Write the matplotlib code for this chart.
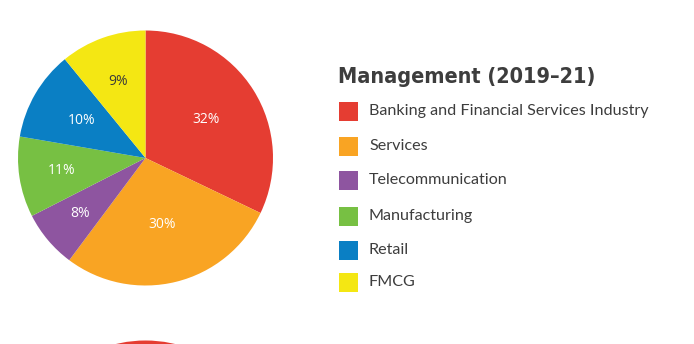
import numpy as np
import matplotlib.pyplot as plt
from matplotlib.patches import Circle, Rectangle

sectors = ['Banking and Financial Services Industry', 'Services', 'Telecommunication',
           'Manufacturing', 'Retail', 'FMCG']
shares = [32.1, 28.1, 7.3, 10.2, 11.4, 10.9]
pct_labels = ['32%', '30%', '8%', '11%', '10%', '9%']
colors = ['#e53d32', '#f9a423', '#8e55a0', '#77c043', '#0a7fc4', '#f4e713']
title = 'Management (2019\u201321)'

W, H = 694, 344
fig = plt.figure(figsize=(W / 100, H / 100), dpi=100)

# pie: centre (145,158) px, radius ~127.5 px
cx, cy, r = 145.5, 158, 127.5
ax = fig.add_axes([(cx - r) / W, (H - cy - r) / H, 2 * r / W, 2 * r / H])
wedges, _ = ax.pie(shares, colors=colors, startangle=90, counterclock=False, radius=1,
                   wedgeprops=dict(linewidth=0))
label_dist = [0.565, 0.54, 0.675, 0.665, 0.58, 0.635]
for w, lab, d in zip(wedges, pct_labels, label_dist):
    ang = np.deg2rad((w.theta1 + w.theta2) / 2)
    col = '#3a3a3a' if lab == '9%' else 'white'
    ax.text(d * np.cos(ang), d * np.sin(ang), lab, ha='center', va='center',
            color=col, fontsize=10, family='Open Sans')
ax.set_xlim(-1, 1)
ax.set_ylim(-1, 1)
ax.set_aspect('equal')
ax.axis('off')

# top of the next chart peeking in at the bottom
ax.add_patch(Circle((0, -(468 - cy) / r), 1, color=colors[0], clip_on=False, lw=0))

# legend drawn by hand
fig.text(338 / W, 1 - 77 / H, title, fontsize=15.5, fontweight='bold', color='#3d3d3d',
         family='DejaVu Sans', fontstretch='condensed', va='center', ha='left')
rows = [111, 146, 180, 216, 250, 282]
for name, c, y in zip(sectors, colors, rows):
    fig.patches.append(Rectangle((339 / W, 1 - (y + 9.5) / H), 19 / W, 19 / H,
                                 transform=fig.transFigure, color=c, lw=0))
    fig.text(369 / W, 1 - y / H, name, fontsize=11.6, color='#3d3d3d',
             family='Lato', va='center', ha='left')

fig.savefig('out.png', dpi=100)
